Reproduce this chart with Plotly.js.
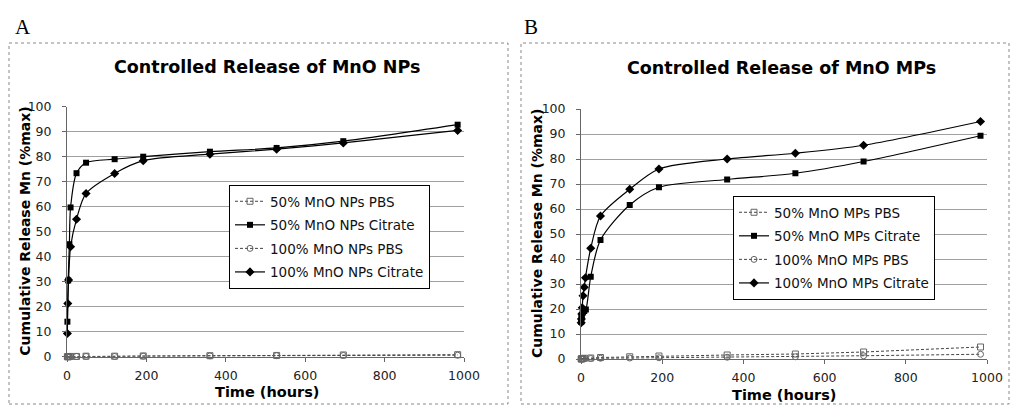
<!DOCTYPE html>
<html>
<head>
<meta charset="utf-8">
<script src="https://cdn.plot.ly/plotly-3.0.1.min.js"></script>
<style>html,body{margin:0;padding:0;background:#fff;}#chart{width:1010px;height:405px;}</style>
</head>
<body>
<div id="chart"></div>
<script>
// ---------- Panel A: MnO NPs ----------
const timeA50PBS = [1, 2, 4, 8, 24, 48, 120, 192, 360, 528, 696, 984];
const relA50PBS  = [0, 0, 0, 0.1, 0.1, 0.2, 0.2, 0.3, 0.4, 0.5, 0.7, 0.8];
const timeA50Cit = [1, 3, 6, 9, 24, 48, 120, 192, 360, 528, 696, 984];
const relA50Cit  = [14, 30.5, 45, 59.7, 73.4, 77.6, 79, 80, 82, 83.5, 86.2, 92.8];
const timeA100PBS = [1, 2, 4, 8, 24, 48, 120, 192, 360, 528, 696, 984];
const relA100PBS  = [0, 0, 0, 0, 0.1, 0.1, 0.1, 0.2, 0.3, 0.4, 0.5, 0.6];
const timeA100Cit = [1, 2, 4, 9, 24, 48, 120, 192, 360, 528, 696, 984];
const relA100Cit  = [9.3, 21.3, 30.7, 44, 55, 65.3, 73.3, 78.4, 81, 83, 85.5, 90.5];

// ---------- Panel B: MnO MPs ----------
const timeB50PBS = [0.5, 1, 2, 4, 8, 24, 48, 120, 192, 360, 528, 696, 984];
const relB50PBS  = [0, 0.1, 0.1, 0.2, 0.3, 0.4, 0.6, 0.9, 1.2, 1.6, 2.0, 2.8, 4.8];
const timeB50Cit = [0.5, 1, 2, 4, 8, 12, 24, 48, 120, 192, 360, 528, 696, 984];
const relB50Cit  = [14.8, 16.5, 17.5, 18.5, 19.2, 19.8, 32.9, 47.6, 61.6, 68.7, 71.8, 74.3, 79, 89.3];
const timeB100PBS = [0.5, 1, 2, 4, 8, 24, 48, 120, 192, 360, 528, 696, 984];
const relB100PBS  = [0, 0, 0.1, 0.1, 0.1, 0.2, 0.3, 0.4, 0.5, 0.7, 0.9, 1.3, 1.9];
const timeB100Cit = [0.5, 1, 2, 3, 5, 8, 11, 24, 48, 120, 192, 360, 528, 696, 984];
const relB100Cit  = [14.5, 16, 18, 20.5, 25.3, 28.7, 32.5, 44.3, 57.2, 67.9, 76, 80, 82.3, 85.5, 95];

const namesA = ['50% MnO NPs PBS', '50% MnO NPs Citrate', '100% MnO NPs PBS', '100% MnO NPs Citrate'];
const namesB = ['50% MnO MPs PBS', '50% MnO MPs Citrate', '100% MnO MPs PBS', '100% MnO MPs Citrate'];
const xTickVals = [0, 200, 400, 600, 800, 1000];
const yTickVals = [0, 10, 20, 30, 40, 50, 60, 70, 80, 90, 100];

const W = 1010, H = 405;
const px = v => v / W;
const py = v => 1 - v / H;

function pbs(x, y, name, sym, xa, ya, lg, grp) {
  return {x: x, y: y, name: name, type: 'scatter', mode: 'lines+markers',
    xaxis: xa, yaxis: ya, legend: lg, legendgroup: grp, cliponaxis: false,
    line: {color: '#444', width: 1, dash: '3px,2px'},
    marker: {symbol: sym, size: 6, color: '#666', line: {color: '#666', width: 1}}};
}
function cit(x, y, name, sym, size, xa, ya, lg, grp) {
  return {x: x, y: y, name: name, type: 'scatter', mode: 'lines+markers',
    xaxis: xa, yaxis: ya, legend: lg, legendgroup: grp, cliponaxis: false,
    line: {color: '#000', width: 1.2, shape: 'spline', smoothing: 0.8},
    marker: {symbol: sym, size: size, color: '#000'}};
}

const data = [
  pbs(timeA50PBS, relA50PBS, namesA[0], 'square-open', 'x', 'y', 'legend', 'a1'),
  cit(timeA50Cit, relA50Cit, namesA[1], 'square', 6, 'x', 'y', 'legend', 'a2'),
  pbs(timeA100PBS, relA100PBS, namesA[2], 'circle-open', 'x', 'y', 'legend', 'a3'),
  cit(timeA100Cit, relA100Cit, namesA[3], 'diamond', 7, 'x', 'y', 'legend', 'a4'),
  pbs(timeB50PBS, relB50PBS, namesB[0], 'square-open', 'x2', 'y2', 'legend2', 'b1'),
  cit(timeB50Cit, relB50Cit, namesB[1], 'square', 6, 'x2', 'y2', 'legend2', 'b2'),
  pbs(timeB100PBS, relB100PBS, namesB[2], 'circle-open', 'x2', 'y2', 'legend2', 'b3'),
  cit(timeB100Cit, relB100Cit, namesB[3], 'diamond', 7, 'x2', 'y2', 'legend2', 'b4')
];

function xax(d, anchor) {
  return {domain: d, range: [0, 1000], tickvals: xTickVals, ticks: 'outside', ticklen: 4,
    tickcolor: '#666', showgrid: false, showline: true, linecolor: '#666', linewidth: 1,
    zeroline: false, anchor: anchor, ticklabelstandoff: 3, fixedrange: true};
}
function yax(d, anchor) {
  return {domain: d, range: [0, 100], tickvals: yTickVals, ticks: 'outside', ticklen: 4,
    tickcolor: '#666', showgrid: true, gridcolor: '#a0a0a0', gridwidth: 1, showline: true,
    linecolor: '#666', linewidth: 1, zeroline: false, anchor: anchor, ticklabelstandoff: 8, fixedrange: true};
}
function legendAt(x, y) {
  return {x: px(x), y: py(y), xanchor: 'left', yanchor: 'top', bgcolor: '#fff',
    bordercolor: '#000', borderwidth: 1, font: {size: 13.5, color: '#111'},
    traceorder: 'grouped', tracegroupgap: 3};
}
const bold = 'DejaVu Sans, Verdana, sans-serif';
function ann(text, x, y, size, opts) {
  return Object.assign({text: text, xref: 'paper', yref: 'paper', x: px(x), y: py(y),
    xanchor: 'center', yanchor: 'middle', showarrow: false,
    font: {family: bold, size: size, color: '#000', weight: 'bold'}}, opts || {});
}

const layout = {
  width: W, height: H, margin: {l: 0, r: 0, t: 0, b: 0},
  paper_bgcolor: '#fff', plot_bgcolor: '#fff', showlegend: true,
  font: {family: 'DejaVu Sans, Verdana, sans-serif', size: 12.5, color: '#222'},
  xaxis: xax([px(67), px(464)], 'y'),
  yaxis: yax([py(356.7), py(106.7)], 'x'),
  xaxis2: xax([px(581), px(987)], 'y2'),
  yaxis2: yax([py(359), py(109)], 'x2'),
  legend: legendAt(229, 185),
  legend2: legendAt(733, 196),
  shapes: [
    {type: 'rect', xref: 'paper', yref: 'paper', x0: px(9), x1: px(508), y0: py(404), y1: py(43),
      line: {color: '#888', width: 1, dash: 'dot'}},
    {type: 'rect', xref: 'paper', yref: 'paper', x0: px(521), x1: px(1009), y0: py(404), y1: py(43),
      line: {color: '#888', width: 1, dash: 'dot'}}
  ],
  annotations: [
    ann('Controlled Release of MnO NPs', 267, 67, 17.5),
    ann('Controlled Release of MnO MPs', 781, 68, 17.5),
    ann('Cumulative Release Mn (%max)', 25, 231.7, 14, {textangle: -90}),
    ann('Cumulative Release Mn (%max)', 537, 234, 14, {textangle: -90}),
    ann('Time (hours)', 267, 392, 14.5),
    ann('Time (hours)', 784, 395, 14.5),
    {text: 'A', xref: 'paper', yref: 'paper', x: px(23), y: py(27), xanchor: 'center', yanchor: 'middle',
      showarrow: false, font: {family: 'Liberation Serif, Times New Roman, serif', size: 21, color: '#000'}},
    {text: 'B', xref: 'paper', yref: 'paper', x: px(531), y: py(27), xanchor: 'center', yanchor: 'middle',
      showarrow: false, font: {family: 'Liberation Serif, Times New Roman, serif', size: 21, color: '#000'}}
  ]
};

Plotly.newPlot('chart', data, layout, {displayModeBar: false, staticPlot: true});
</script>
</body>
</html>
